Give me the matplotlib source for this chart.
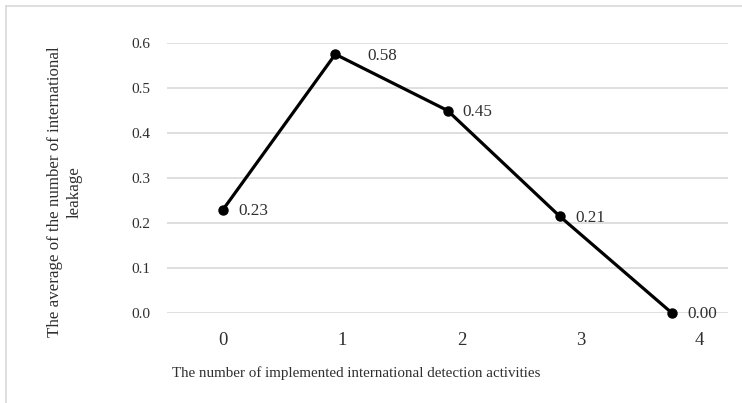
import matplotlib.pyplot as plt
import numpy as np

# ── Data ─────────────────────────────────────────────────────────────────────
activities = [0, 1, 2, 3, 4]
avg_leakage = [0.23, 0.575, 0.45, 0.215, 0.0]
value_labels = ["0.23", "0.58", "0.45", "0.21", "0.00"]
tick_labels = ["0", "1", "2", "3", "4"]
y_ticks = [0.0, 0.1, 0.2, 0.3, 0.4, 0.5, 0.6]

plt.rcParams["font.family"] = ["Liberation Serif", "DejaVu Serif"]
text_col = "#2f2f2f"

fig = plt.figure(figsize=(7.42, 4.03), dpi=100)
ax = fig.add_axes([167 / 742, 1 - 313 / 403, 561 / 742, 270 / 403])

ax.plot(activities, avg_leakage, color="black", lw=2.3, marker="o",
        markersize=6.5, clip_on=False, zorder=3)

for x, y, s in zip(activities, avg_leakage, value_labels):
    dx = 23 if s == "0.58" else 11
    ax.annotate(s, (x, y), xytext=(dx, -1), textcoords="offset points",
                ha="left", va="center", fontsize=12.3, color=text_col)

ax.set_xlim(-0.5, 4.5)
ax.set_ylim(0, 0.6)
ax.set_yticks(y_ticks)
ax.set_yticklabels([f"{v:.1f}" for v in y_ticks])
# category labels in the source sit slightly off the plotted points
ax.set_xticks(np.arange(len(tick_labels)) * 1.062)
ax.set_xticklabels(tick_labels)
ax.tick_params(axis="y", length=0, pad=12, labelsize=11, labelcolor=text_col)
ax.tick_params(axis="x", length=0, pad=14, labelsize=13.5, labelcolor=text_col)
ax.grid(axis="y", color="#dcdcdc", lw=1.3)
ax.set_axisbelow(True)
for sp in ax.spines.values():
    sp.set_visible(False)

fig.text(172 / 742, 1 - 373 / 403, "The number of implemented international detection activities",
         ha="left", va="center", fontsize=10.8, color=text_col)
fig.text(65 / 742, 1 - 192 / 403, "The average of the number of international\nleakage",
         ha="center", va="center", rotation=90, fontsize=12.2, color=text_col,
         linespacing=1.25, multialignment="center")

# light frame on top and left edges
fig.add_artist(plt.Line2D([6 / 742, 6 / 742], [0, 1 - 6 / 403], transform=fig.transFigure,
                          color="#d9d9d9", lw=1.2))
fig.add_artist(plt.Line2D([6 / 742, 1], [1 - 6 / 403, 1 - 6 / 403], transform=fig.transFigure,
                          color="#d9d9d9", lw=1.2))

fig.savefig("out.png", dpi=100)
